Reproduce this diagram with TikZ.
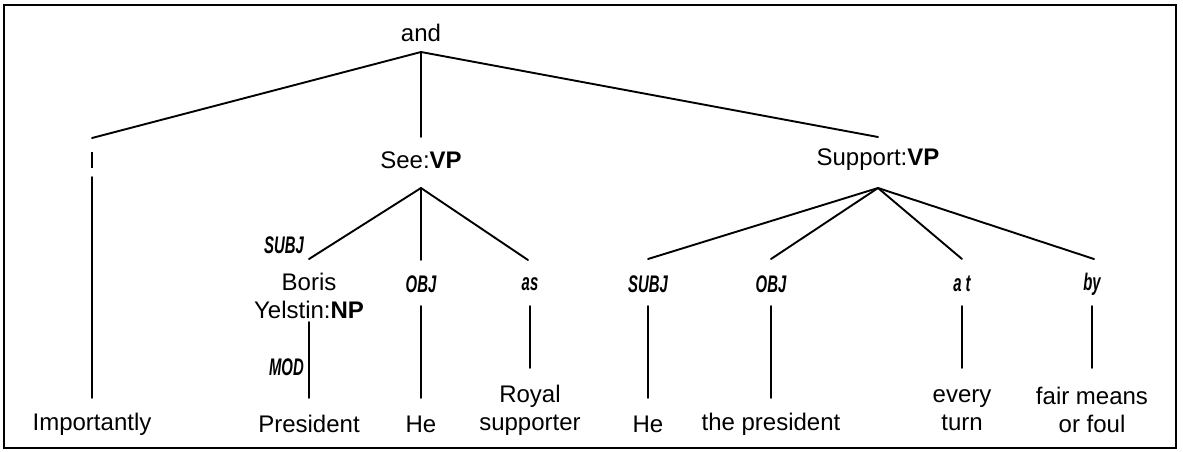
\documentclass[tikz,border=0pt]{standalone}
\usepackage{fontspec}
\setmainfont{Liberation Sans}
\newfontfamily\rolefont[FakeStretch=0.62]{Liberation Sans}
\begin{document}
\begin{tikzpicture}[x=1pt,y=-1pt,
  word/.style={inner sep=0pt,align=center,font=\fontsize{24}{28}\selectfont},
  role/.style={inner sep=0pt,font=\rolefont\bfseries\itshape\fontsize{24}{24}\selectfont},
  edge/.style={line width=1.9pt,line cap=round},
  frame/.style={line width=1.4pt}]
\useasboundingbox (0,0) rectangle (1183,451);
\draw[frame] (4,5) rectangle (1176,448);

% root
\node[word] (and) at (421,33) {and};
\coordinate (and-b) at (421,52);

% first level
\coordinate (imp-t) at (92,138);
\node[inner sep=0pt] (rel0) at (92,160) {\rule{1.9pt}{16pt}};
\coordinate (imp-a) at (92,177);
\coordinate (imp-z) at (92,398);
\node[word] (imp) at (92,424) {Importantly};

\coordinate (see-t) at (421,137);
\node[word] (see) at (421,160) {See:\textbf{VP}};
\coordinate (see-b) at (421,188);

\coordinate (sup-t) at (878,137);
\node[word] (sup) at (878,160) {Support:\textbf{VP}};
\coordinate (sup-b) at (878,188);

\draw[edge] (and-b) -- (imp-t);
\draw[edge] (and-b) -- (see-t);
\draw[edge] (and-b) -- (sup-t);
\draw[edge] (imp-a) -- (imp-z);

% children of See
\coordinate (boris-t) at (309,259);
\node[role,anchor=east] (subj1) at (304,245) {SUBJ};
\node[word] (boris) at (309,296) {Boris\\Yelstin:\textbf{NP}};
\coordinate (pres-t) at (309,322);
\coordinate (pres-z) at (309,398);
\node[role,anchor=east] (mod) at (304,367) {MOD};
\node[word] (pres) at (309,424) {President};

\coordinate (he1-t) at (421,260);
\node[role] (obj1) at (421,284) {OBJ};
\coordinate (he1-a) at (421,306);
\coordinate (he1-z) at (421,398);
\node[word] (he1) at (421,424) {He};

\coordinate (roy-t) at (528,260);
\node[role] (as) at (530,284) {as};
\coordinate (roy-a) at (530,306);
\coordinate (roy-z) at (530,368);
\node[word] (roy) at (530,410) {Royal\\supporter};

\draw[edge] (see-b) -- (boris-t);
\draw[edge] (see-b) -- (he1-t);
\draw[edge] (see-b) -- (roy-t);
\draw[edge] (pres-t) -- (pres-z);
\draw[edge] (he1-a) -- (he1-z);
\draw[edge] (roy-a) -- (roy-z);

% children of Support
\coordinate (he2-t) at (648,259);
\node[role] (subj2) at (648,284) {SUBJ};
\coordinate (he2-a) at (648,306);
\coordinate (he2-z) at (648,398);
\node[word] (he2) at (648,424) {He};

\coordinate (thep-t) at (771,259);
\node[role] (obj2) at (771,284) {OBJ};
\coordinate (thep-a) at (771,306);
\coordinate (thep-z) at (771,398);
\node[word] (thep) at (771,424) {the president};

\coordinate (ev-t) at (962,259);
\node[role] (at) at (962,284) {a\,t};
\coordinate (ev-a) at (962,306);
\coordinate (ev-z) at (962,368);
\node[word] (ev) at (962,410) {every\\turn};

\coordinate (fair-t) at (1094,259);
\node[role] (by) at (1092,284) {by};
\coordinate (fair-a) at (1092,306);
\coordinate (fair-z) at (1092,368);
\node[word] (fair) at (1092,410) {fair means\\or foul};

\draw[edge] (sup-b) -- (he2-t);
\draw[edge] (sup-b) -- (thep-t);
\draw[edge] (sup-b) -- (ev-t);
\draw[edge] (sup-b) -- (fair-t);
\draw[edge] (he2-a) -- (he2-z);
\draw[edge] (thep-a) -- (thep-z);
\draw[edge] (ev-a) -- (ev-z);
\draw[edge] (fair-a) -- (fair-z);
\end{tikzpicture}
\end{document}
